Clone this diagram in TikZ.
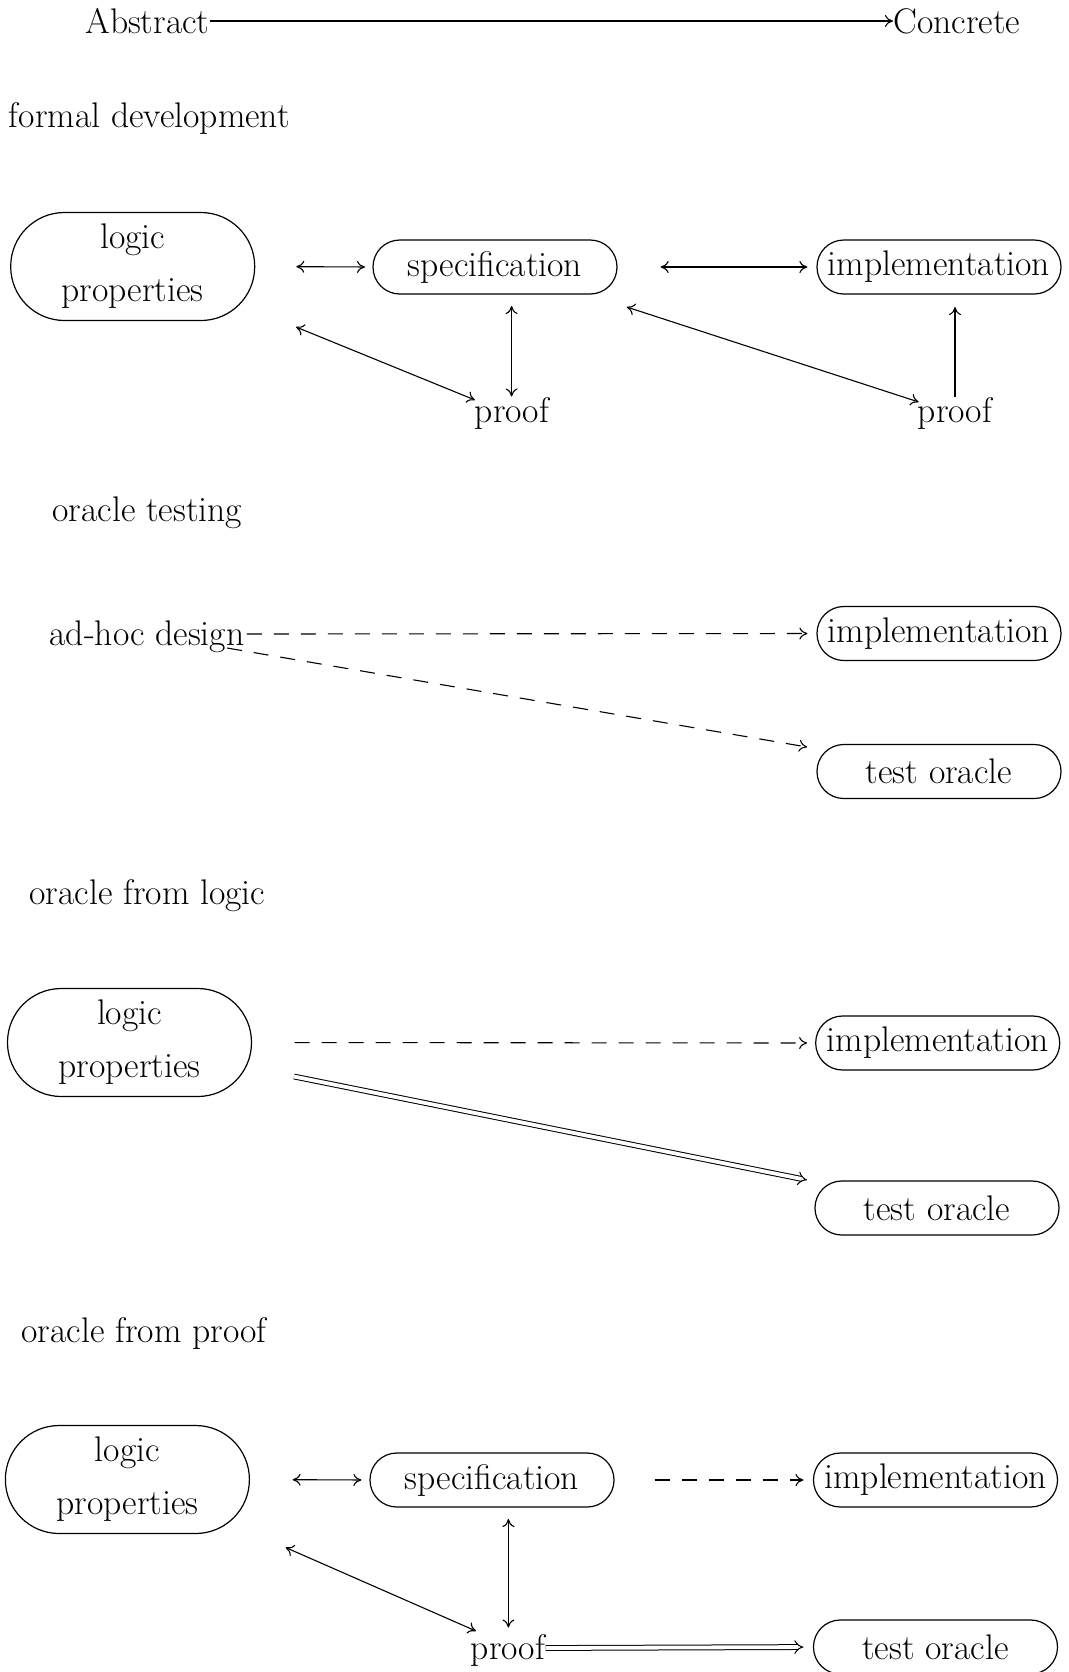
\documentclass[tikz,border=0pt]{standalone}
\usetikzlibrary{arrows.meta}
\begin{document}
\begin{tikzpicture}[x=0.5pt,y=-0.5pt,
  every node/.style={font=\fontsize{17.8}{26.5}\selectfont},
  pill/.style={draw, line width=0.6pt, rounded corners=13.4pt,
    minimum width=122pt, minimum height=27pt, inner sep=0pt},
  lbox/.style={draw, line width=0.6pt, rounded corners=26.9pt,
    minimum width=122pt, minimum height=54pt, align=center, inner sep=0pt},
  txt/.style={inner sep=0pt},
  conn/.style={line width=0.55pt},
  dsh/.style={conn, dash pattern=on 7.5pt off 6pt},
  dbl/.style={line width=0.5pt, double, double distance=1.9pt, -{Implies}},
  >={To[length=4pt,width=6pt]}]
\useasboundingbox (0,0) rectangle (1069,1672);

% heading
\node[txt, anchor=east] (abs) at (210,21) {Abstract};
\node[txt, anchor=west] (con) at (893,21) {Concrete};
\draw[conn,->] (abs.east) -- (con.west);

% formal development
\node[txt, anchor=west] (t1) at (8.5,118) {formal development};
\node[lbox] (logA) at (132.7,266.5) {logic\\properties};
\node[pill] (specA) at (495,267) {specification};
\node[pill] (implA) at (939,267) {implementation};
\node[txt] (prfA) at (512,413) {proof};
\node[txt] (prfB) at (955,413) {proof};
\draw[conn,<->, shorten <=20.5pt, shorten >=3.7pt] (logA.east) -- (specA.west);
\draw[conn,<->, shorten <=21.5pt, shorten >=4.5pt] (specA.east) -- (implA.west);
\draw[conn,<->] ([shift={(163.3,60.5)}]logA.center) -- ([shift={(-37,-13)}]prfA.center);
\draw[conn,<->] ([shift={(16.6,39)}]specA.center) -- ([shift={(-0.4,-16.5)}]prfA.center);
\draw[conn,<->] ([shift={(131.7,40)}]specA.center) -- ([shift={(-36.3,-11)}]prfB.center);
\draw[conn,->] ([shift={(0,-16.5)}]prfB.center) -- ([shift={(16,40)}]implA.center);

% oracle testing
\node[txt, anchor=west] (t2) at (52,512.5) {oracle testing};
\node[txt] (adhoc) at (147,637) {ad-hoc design};
\node[pill] (implB) at (939,633.5) {implementation};
\node[pill] (testB) at (939,771.5) {test oracle};
\draw[dsh,->, shorten <=1pt, shorten >=4.5pt] ([yshift=1.5pt]adhoc.east) -- (implB.west);
\draw[dsh,->] ([shift={(80,11)}]adhoc.center) -- ([shift={(-132,-24.5)}]testB.center);

% oracle from logic
\node[txt, anchor=west] (t3) at (29,896) {oracle from logic};
\node[lbox] (logC) at (129.5,1042.5) {logic\\properties};
\node[pill] (implC) at (937.7,1043) {implementation};
\node[pill] (testC) at (937,1208) {test oracle};
\draw[dsh,->, shorten <=21.25pt, shorten >=4pt] (logC.east) -- (implC.west);
\draw[dbl] ([shift={(164.5,34)}]logC.center) -- ([shift={(-130,-28)}]testC.center);

% oracle from proof
\node[txt, anchor=west] (t4) at (21,1333) {oracle from proof};
\node[lbox] (logD) at (127.4,1479.5) {logic\\properties};
\node[pill] (specD) at (492,1480) {specification};
\node[pill] (implD) at (935.5,1480) {implementation};
\node[pill] (testD) at (935.5,1647) {test oracle};
\node[txt] (prfD) at (508,1650) {proof};
\draw[conn,<->, shorten <=21.3pt, shorten >=4pt] (logD.east) -- (specD.west);
\draw[dsh,->, shorten <=20pt, shorten >=4.7pt] (specD.east) -- (implD.west);
\draw[conn,<->] ([shift={(158.2,68)}]logD.center) -- ([shift={(-32,-19)}]prfD.center);
\draw[conn,<->] ([shift={(16.4,39)}]specD.center) -- ([shift={(0.4,-22.5)}]prfD.center);
\draw[dbl, shorten >=4.7pt] ([yshift=1pt]prfD.east) -- (testD.west);
\end{tikzpicture}
\end{document}
